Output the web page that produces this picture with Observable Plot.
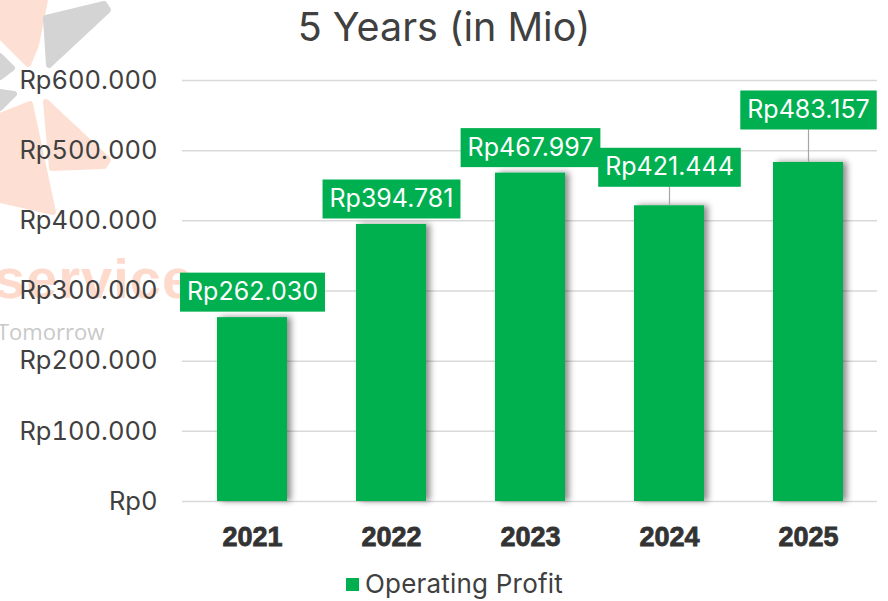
<!DOCTYPE html>
<html><head><meta charset="utf-8">
<script src="https://cdn.jsdelivr.net/npm/d3@7"></script>
<script src="https://cdn.jsdelivr.net/npm/@observablehq/plot@0.6"></script>
<style>
body{margin:0;background:#fff;}
#wrap{position:relative;width:888px;height:601px;overflow:hidden;font-family:Inter,"Noto Sans",sans-serif;}
#title{position:absolute;left:0;width:888px;top:8px;text-align:center;font-size:39.5px;color:#404040;line-height:1;}
#chart{position:absolute;left:0;top:55px;}
#legend{position:absolute;left:346px;top:571px;font-size:26px;color:#404040;display:flex;align-items:center;line-height:1;}
#legend .sw{width:13px;height:13px;background:#00B050;margin-right:6px;flex:none;}
#legend .lt{display:inline-block;white-space:nowrap;letter-spacing:0.2px;}
#wm{position:absolute;left:0;top:0;}
</style></head><body>
<div id="wrap">
<svg id="wm" width="300" height="360">
  <g stroke-linejoin="round" stroke-width="6">
    <polygon points="0,0 45,0 36,45 28,64 0,36" fill="#fde0d3" stroke="#fde0d3"/>
    <polygon points="46,18 104,4 108,10 49,65" fill="#d4d4d4" stroke="#d4d4d4"/>
    <polygon points="0,56 12,68 0,77" fill="#d4d4d4" stroke="#d4d4d4"/>
    <polygon points="0,92 14,94 0,108" fill="#d4d4d4" stroke="#d4d4d4"/>
    <polygon points="46,102 108,160 104,166 52,168" fill="#fde0d3" stroke="#fde0d3"/>
    <polygon points="0,116 30,104 53,212 0,200" fill="#fde0d3" stroke="#fde0d3"/>
  </g>
  <text x="-6" y="298" font-family="'Liberation Sans', Arial, sans-serif" font-weight="bold" font-size="56" letter-spacing="1" fill="#fddacb">service</text>
  <text x="-3" y="340" font-family="'Open Sans', sans-serif" font-size="22" fill="#c9c9c9">Tomorrow</text>
</svg>
<div id="title">5 Years (in Mio)</div>
<div id="chart"></div>
<div id="legend"><span class="sw"></span><span class="lt"></span></div>
</div>
<script>
const years = ["2021", "2022", "2023", "2024", "2025"];
const operatingProfit = [262030, 394781, 467997, 421444, 483157];
const yTicks = [0, 100000, 200000, 300000, 400000, 500000, 600000];
const seriesName = "Operating Profit";
// label layout (px lift used by the original chart to avoid overlaps)
const labelLift = [0, 0, 0, 13, 27];

const data = years.map((y, i) => ({year: y, value: operatingProfit[i], lift: labelLift[i]}));
const fmt = v => "Rp" + d3.format(",")(v).replace(/,/g, ".");
const GREEN = "#00B050";
const GAP = 6, BOXH = 39, PADX = 7;

const mctx = document.createElement("canvas").getContext("2d");
mctx.font = "25px Inter";

const chart = Plot.plot({
  width: 888, height: 510,
  marginLeft: 182, marginRight: 11, marginTop: 25, marginBottom: 64,
  style: {background: "transparent", fontFamily: "Inter, sans-serif", overflow: "visible"},
  x: {domain: years, paddingInner: 0.5, paddingOuter: 0.25, axis: null},
  y: {domain: [0, 600000], axis: null},
  marks: [
    Plot.ruleY(yTicks, {stroke: "#d9d9d9", strokeWidth: 1.5}),
    Plot.axisY({ticks: yTicks, tickFormat: fmt, tickSize: 0, tickPadding: 25, fontSize: 25.5, color: "#404040", label: null}),
    Plot.axisX({tickSize: 0, tickPadding: 25, fontSize: 27, fontWeight: "bold", className: "xax",
      fontFamily: "'Liberation Sans', Arial, sans-serif", color: "#333333", label: null}),
    Plot.barY(data, {x: "year", y: "value", fill: GREEN, className: "bars"}),
    Plot.ruleX(data, {x: "year", y1: "value", y2: "value", stroke: "#a6a6a6", strokeWidth: 1.2,
      render: (index, scales, values, dims, ctx, next) => {
        const idx = index.filter(i => data[i].lift > 0);
        const y2 = Float64Array.from(values.y1, (v, i) => v - GAP - data[i].lift);
        return next(idx, scales, {...values, y2}, dims, ctx);
      }}),
    Plot.text(data, {x: "year", y: "value", text: d => fmt(d.value), fill: "white", fontSize: 25,
      lineAnchor: "middle", className: "lbl",
      render: (index, scales, values, dims, ctx, next) => {
        const y = Float64Array.from(values.y, (v, i) => v - GAP - BOXH / 2 - data[i].lift);
        const g = next(index, scales, {...values, y}, dims, ctx);
        const outer = d3.create("svg:g");
        const rg = outer.append("g").attr("transform", g.getAttribute("transform"));
        for (const i of index) {
          const w = mctx.measureText(fmt(data[i].value)).width + 2 * PADX;
          rg.append("rect").attr("x", values.x[i] - w / 2).attr("y", y[i] - BOXH / 2)
            .attr("width", w).attr("height", BOXH).attr("fill", GREEN);
        }
        outer.node().appendChild(g);
        return outer.node();
      }})
  ]
});

const defs = d3.select(chart).insert("defs", ":first-child");
defs.append("filter").attr("id", "barShadow").attr("x", "-30%").attr("y", "-10%").attr("width", "170%").attr("height", "120%")
  .append("feDropShadow").attr("dx", 4).attr("dy", 0).attr("stdDeviation", 3)
  .attr("flood-color", "#000").attr("flood-opacity", 0.45);
d3.select(chart).select("g.bars").attr("filter", "url(#barShadow)");
// heavier year labels
d3.select(chart).selectAll("g.xax text").attr("stroke", "#333333").attr("stroke-width", 0.8).attr("paint-order", "stroke");

document.getElementById("chart").appendChild(chart);
document.querySelector("#legend .lt").textContent = seriesName;
</script>
</body></html>
